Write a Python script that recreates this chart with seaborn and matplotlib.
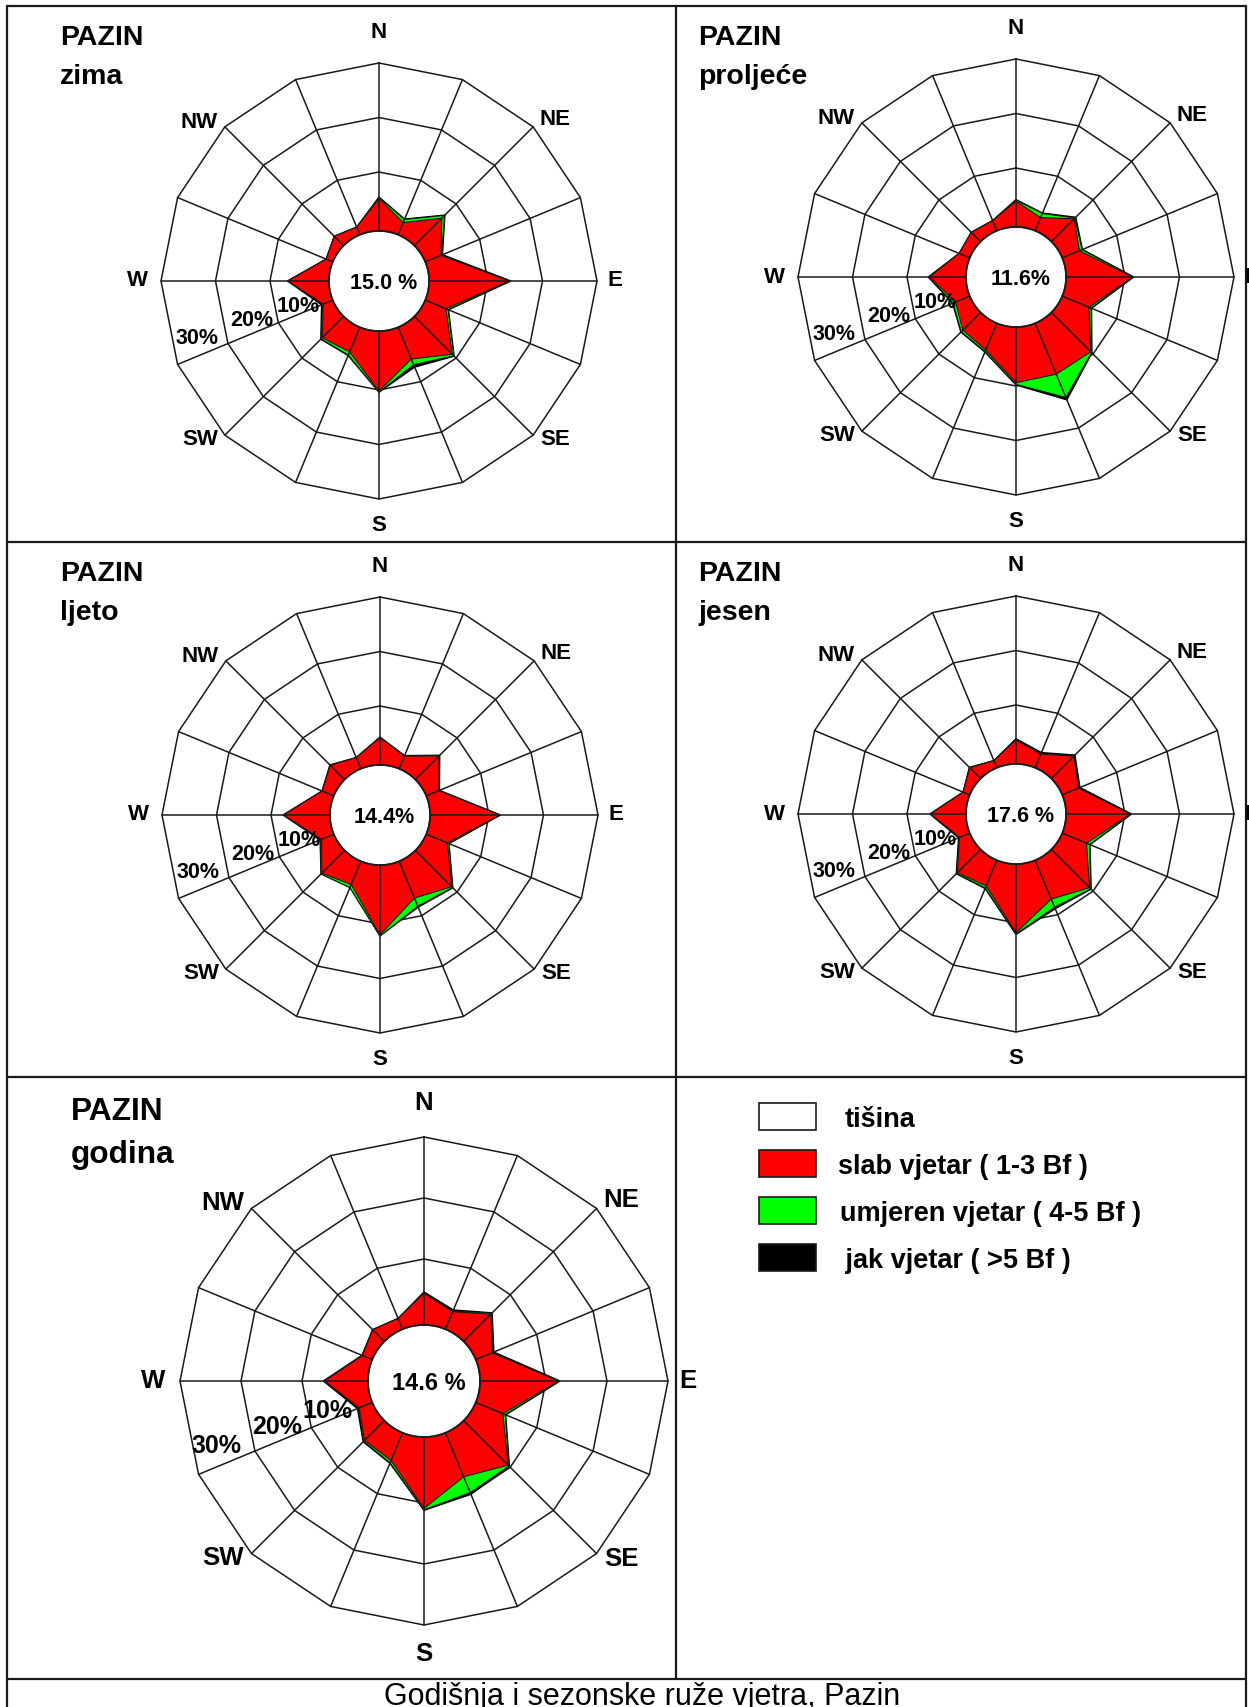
import numpy as np
import matplotlib
matplotlib.use('Agg')
import matplotlib.pyplot as plt
import seaborn as sns
from matplotlib.patches import Rectangle

sns.set_theme(style='white')
plt.rcParams['font.family'] = ['Liberation Sans', 'DejaVu Sans']

# smjerovi vjetra (16)
smjerovi = ['N', 'NNE', 'NE', 'ENE', 'E', 'ESE', 'SE', 'SSE',
            'S', 'SSW', 'SW', 'WSW', 'W', 'WNW', 'NW', 'NNW']

# cestine u % (slab 1-3 Bf, umjeren 4-5 Bf, jak >5 Bf)
zima_slab = [5.1, 1.6, 6.3, 2.3, 13.9, 3.3, 9.0, 5.5, 10.2, 4.1, 4.7, 1.1, 6.7, 0.5, 1.6, 0.7]
zima_umj = [0.2, 0.6, 0.7, 0.1, 0.1, 0.4, 0.4, 1.1, 0.2, 0.6, 0.3, 0.1, 0.0, 0.0, 0.0, 0.0]
zima_jak = [0.1, 0.1, 0.1, 0.2, 0.2, 0.1, 0.1, 0.5, 0.0, 0.1, 0.1, 0.2, 0.1, 0.0, 0.0, 0.0]

proljece_slab = [3.9, 1.8, 5.1, 2.6, 11.4, 4.5, 9.4, 9.3, 9.4, 4.5, 3.8, 2.0, 5.9, 1.3, 1.6, 1.2]
proljece_umj = [0.2, 0.8, 0.2, 0.5, 0.1, 0.4, 0.2, 4.6, 0.3, 0.3, 0.4, 0.5, 0.1, 0.0, 0.0, 0.0]
proljece_jak = [0.1, 0.1, 0.2, 0.1, 0.1, 0.1, 0.1, 0.5, 0.1, 0.1, 0.1, 0.1, 0.1, 0.0, 0.0, 0.0]

ljeto_slab = [4.2, 1.7, 5.3, 1.7, 12.0, 3.4, 8.6, 6.5, 12.0, 3.8, 5.1, 1.6, 7.7, 1.5, 2.9, 1.4]
ljeto_umj = [0.0, 0.0, 0.1, 0.0, 0.0, 0.3, 0.2, 1.6, 0.2, 0.6, 0.2, 0.2, 0.0, 0.0, 0.0, 0.0]
ljeto_jak = [0.1, 0.1, 0.1, 0.1, 0.1, 0.0, 0.1, 0.2, 0.0, 0.0, 0.0, 0.1, 0.1, 0.0, 0.1, 0.0]

jesen_slab = [3.6, 1.9, 5.0, 2.4, 11.0, 4.0, 9.1, 6.9, 11.8, 4.3, 5.2, 1.2, 5.7, 0.5, 2.0, 0.6]
jesen_umj = [0.0, 0.1, 0.1, 0.1, 0.1, 0.6, 0.3, 1.6, 0.2, 0.4, 0.2, 0.1, 0.0, 0.0, 0.0, 0.0]
jesen_jak = [0.2, 0.2, 0.2, 0.2, 0.1, 0.1, 0.1, 0.3, 0.1, 0.1, 0.1, 0.1, 0.1, 0.0, 0.1, 0.0]

godina_slab = [4.4, 2.3, 5.5, 2.1, 12.1, 4.0, 9.5, 7.0, 10.9, 4.1, 3.8, 1.5, 6.3, 0.9, 1.9, 1.1]
godina_umj = [0.1, 0.1, 0.2, 0.1, 0.1, 0.4, 0.2, 2.8, 0.2, 0.4, 0.2, 0.1, 0.1, 0.1, 0.0, 0.0]
godina_jak = [0.1, 0.2, 0.1, 0.2, 0.1, 0.1, 0.1, 0.3, 0.1, 0.1, 0.1, 0.2, 0.1, 0.0, 0.0, 0.0]

tisina = {'zima': '15.0 %', 'proljeće': '11.6%', 'ljeto': '14.4%', 'jesen': '17.6 %', 'godina': '14.6 %'}

prstenovi = [10, 20, 30]
prsten_oznake = ['10%', '20%', '30%']
legenda = ['tišina', 'slab vjetar ( 1-3 Bf )', 'umjeren vjetar ( 4-5 Bf )', ' jak vjetar ( >5 Bf )']
boje = ['white', '#ff0000', '#00ff00', 'black']

W, H = 1249, 1707
fig = plt.figure(figsize=(W / 100, H / 100), dpi=100)
fig.patch.set_facecolor('white')

# okvir tablice u pikselima
ax0 = fig.add_axes([0, 0, 1, 1])
ax0.set_xlim(0, W)
ax0.set_ylim(H, 0)
ax0.axis('off')
lw_t = 1.6
ax0.plot([7, 7], [6, H], color='k', lw=lw_t)
ax0.plot([1246, 1246], [6, H], color='k', lw=lw_t)
ax0.plot([7, 1246], [6, 6], color='k', lw=lw_t)
for yy in [542, 1077, 1679]:
    ax0.plot([7, 1246], [yy, yy], color='k', lw=lw_t)
ax0.plot([676, 676], [6, 1679], color='k', lw=lw_t)

theta = np.deg2rad(np.arange(16) * 22.5)
th_c = np.append(theta, theta[0])
RMIN = -0.8
RTOP = 30.6


def ruza(cx, cy, k, ime, slab, umj, jak, fs_dir, fs_mid, fs_ring, r_ring):
    R = (RTOP + 10) * k
    ax = fig.add_axes([(cx - R) / W, 1 - (cy + R) / H, 2 * R / W, 2 * R / H],
                      projection='polar')
    ax.set_theta_zero_location('N')
    ax.set_theta_direction(-1)
    ax.set_rorigin(-10)
    ax.set_ylim(RMIN, RTOP)
    ax.grid(False)
    ax.set_xticks([])
    ax.set_yticks([])
    for s in ax.spines.values():
        s.set_visible(False)
    ax.patch.set_alpha(0)

    # poligonalna mreza
    for p in prstenovi:
        ax.plot(th_c, [p] * 17, color='k', lw=1.1, zorder=1)

    s1 = np.array(slab)
    s2 = s1 + np.array(umj)
    s3 = s2 + np.array(jak)
    ax.fill(th_c, np.append(s3, s3[0]), color='black', lw=1.0, zorder=2)
    ax.fill(th_c, np.append(s2, s2[0]), facecolor='#00ff00', edgecolor='k', lw=0.7, zorder=3)
    ax.fill(th_c, np.append(s1, s1[0]), facecolor='#ff0000', edgecolor='k', lw=0.8, zorder=4)

    for t in theta:
        ax.plot([t, t], [RMIN, 30], color='k', lw=1.1, zorder=5)
    tt = np.linspace(0, 2 * np.pi, 300)
    ax.plot(tt, [RMIN] * 300, color='k', lw=1.3, zorder=6, clip_on=False)

    ax.text(0.51, 0.495, tisina[ime], transform=ax.transAxes, ha='center', va='center',
            fontsize=fs_mid, fontweight='bold', color='black', zorder=7)

    # oznake smjerova
    poz = [('N', 0, 35.6), ('NE', 47.5, 33.8), ('E', 90, 33.2), ('SE', 132, 33.6),
           ('S', 180, 34.8), ('SW', 228.5, 33.9), ('W', 270, 34.4), ('NW', 311.5, 34.0)]
    for lab, ang, rr in poz:
        ax.text(np.deg2rad(ang), rr, lab, ha='center', va='center', fontsize=fs_dir,
                fontweight='bold', color='black', clip_on=False)
    for rr, lab in zip(r_ring, prsten_oznake):
        ax.text(np.deg2rad(252.6), rr, lab, ha='center', va='center', fontsize=fs_ring,
                fontweight='bold', color='black', zorder=8, clip_on=False)
    return ax


sez_ring = [5.5, 14.5, 25.0]
ruza(379, 281, 5.45, 'zima', zima_slab, zima_umj, zima_jak, 16, 15.5, 15.5, sez_ring)
ruza(1016, 277, 5.45, 'proljeće', proljece_slab, proljece_umj, proljece_jak, 16, 15.5, 15.5, sez_ring)
ruza(380, 815, 5.45, 'ljeto', ljeto_slab, ljeto_umj, ljeto_jak, 16, 15.5, 15.5, sez_ring)
ruza(1016, 814, 5.45, 'jesen', jesen_slab, jesen_umj, jesen_jak, 16, 15.5, 15.5, sez_ring)
ruza(424, 1381, 6.1, 'godina', godina_slab, godina_umj, godina_jak, 18.5, 17, 18, [6.6, 15.2, 25.6])

# naslovi
naslovi = [(60, 38, 'zima', 20.5), (698, 38, 'proljeće', 20.5), (60, 574, 'ljeto', 20.5),
           (698, 574, 'jesen', 20.5), (71, 1112, 'godina', 22.8)]
for x, y, ime, fs in naslovi:
    ax0.text(x, y, 'PAZIN', ha='left', va='center', fontsize=fs, fontweight='bold', color='black')
    ax0.text(x, y + 39 * fs / 20.5, ime, ha='left', va='center', fontsize=fs, fontweight='bold',
             color='black')

# legenda
leg_y = [1103, 1150, 1197, 1244]
leg_tx = [845, 838, 840, 838]
for yy, tx, lab, c in zip(leg_y, leg_tx, legenda, boje):
    ax0.add_patch(Rectangle((759, yy), 57, 27, facecolor=c, edgecolor='k', lw=1.2))
    ax0.text(tx, yy + 17, lab, ha='left', va='center', fontsize=19.5, fontweight='bold',
             color='black')

ax0.text(642, 1705, 'Godišnja i sezonske ruže vjetra, Pazin', ha='center', va='baseline',
         fontsize=22, color='black')

fig.savefig('out.png', dpi=100, facecolor='white')
